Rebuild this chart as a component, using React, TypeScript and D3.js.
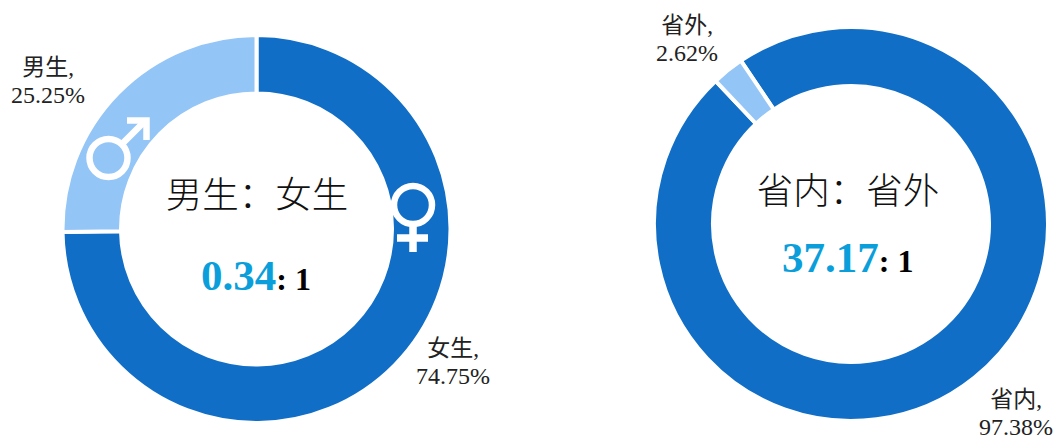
import React from "react";
import * as d3 from "d3";

const WIDTH = 1056;
const HEIGHT = 436;
const SERIF = '"Liberation Serif", "Noto Sans CJK SC", serif';
const DARK = "#106EC6";
const LIGHT = "#93C5F7";
const CYAN = "#0A9FDB";

const genderCategories = ["女生", "男生"];
const genderValues = [74.75, 25.25];
const originCategories = ["省内", "省外"];
const originValues = [97.38, 2.62];
const sliceColors = [DARK, LIGHT];

function Donut({ values, cx, cy, outer, inner, start }: { values: number[]; cx: number; cy: number; outer: number; inner: number; start: number }) {
  const pie = d3.pie<number>().sort(null).startAngle(start).endAngle(start + Math.PI * 2);
  const arc = d3.arc<d3.PieArcDatum<number>>().innerRadius(inner).outerRadius(outer);
  return (
    <g transform={`translate(${cx},${cy})`}>
      {pie(values).map((d, i) => (
        <path key={i} d={arc(d) ?? ""} fill={sliceColors[i]} stroke="#fff" strokeWidth={4} />
      ))}
    </g>
  );
}

function Label({ x, y, name, value }: { x: number; y: number; name: string; value: number }) {
  return (
    <text textAnchor="middle" fontFamily={SERIF} fill="#222" fontSize={24}>
      <tspan x={x} y={y} fontSize={23}>{name},</tspan>
      <tspan x={x} y={y + 28}>{value.toFixed(2)}%</tspan>
    </text>
  );
}

function Centre({ title, titleX, titleY, ratio, ratioX, ratioY }: { title: string; titleX: number; titleY: number; ratio: string; ratioX: number; ratioY: number }) {
  return (
    <g fontFamily={SERIF}>
      <text x={titleX} y={titleY} fontSize={36.5} textAnchor="middle" fill="#111" fontWeight={300}>{title}</text>
      <text x={ratioX} y={ratioY} fontWeight="bold">
        <tspan fontSize={43} fill={CYAN}>{ratio}</tspan>
        <tspan fontSize={32} fill="#000">: 1</tspan>
      </text>
    </g>
  );
}

export default function App() {
  const originStart = (-34 * Math.PI) / 180;
  return (
    <svg width={WIDTH} height={HEIGHT} viewBox={`0 0 ${WIDTH} ${HEIGHT}`} style={{ position: "absolute", left: 0, top: 0, background: "#fff" }}>
      <Donut values={genderValues} cx={256.5} cy={229} outer={194} inner={135.5} start={0} />
      <Donut values={originValues} cx={851} cy={224} outer={197} inner={138} start={originStart} />

      <g fill="none" stroke="#fff" strokeWidth={6.5}>
        <circle cx={108.5} cy={158} r={19} />
        <path d="M122 144 L146 120" />
        <path d="M127 120.5 L146.5 120.5 L146.5 140" />
        <circle cx={413} cy={205} r={19} />
        <path d="M413 224 L413 252" strokeWidth={7.5} />
        <path d="M397 238 L428 238" strokeWidth={7.5} />
      </g>

      <Centre title="男生：女生" titleX={257} titleY={208} ratio="0.34" ratioX={201} ratioY={290} />
      <Centre title="省内：省外" titleX={848} titleY={204} ratio="37.17" ratioX={782} ratioY={272} />

      <Label x={48} y={75} name={genderCategories[1]} value={genderValues[1]} />
      <Label x={453} y={356} name={genderCategories[0]} value={genderValues[0]} />
      <Label x={687} y={33} name={originCategories[1]} value={originValues[1]} />
      <Label x={1016} y={407} name={originCategories[0]} value={originValues[0]} />
    </svg>
  );
}
